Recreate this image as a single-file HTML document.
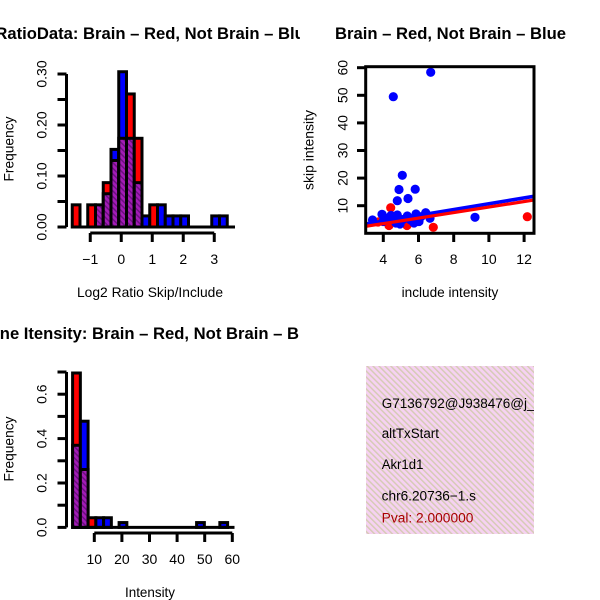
<!DOCTYPE html>
<html>
<head>
<meta charset="utf-8">
<style>
  html, body { margin: 0; padding: 0; background: #ffffff; }
  svg { display: block; }
  text { font-family: "Liberation Sans", Arial, sans-serif; fill: #000; }
</style>
</head>
<body>
<svg width="600" height="600" viewBox="0 0 600 600" xmlns="http://www.w3.org/2000/svg">
  <defs>
    <pattern id="hp" width="4" height="4" patternUnits="userSpaceOnUse" patternTransform="rotate(-45)">
      <rect width="4" height="4" fill="#a31cb6"/>
      <rect width="1.5" height="4" fill="#6c1080"/>
    </pattern>
    <pattern id="pk" width="4.2" height="4.2" patternUnits="userSpaceOnUse" patternTransform="rotate(-45)">
      <rect width="4.2" height="4.2" fill="#f6d2f2"/>
      <rect width="1.5" height="4.2" fill="#d6cbb6"/>
    </pattern>
    <clipPath id="c1"><rect x="0" y="0" width="300" height="300"/></clipPath>
    <clipPath id="c3"><rect x="0" y="300" width="300" height="300"/></clipPath>
    <clipPath id="cs"><rect x="366" y="67" width="168" height="166"/></clipPath>
    <clipPath id="cb"><rect x="366" y="366" width="168" height="168"/></clipPath>
  </defs>

  <rect x="0" y="0" width="600" height="600" fill="#fff"/>

  <!-- ================= TOP-LEFT HISTOGRAM ================= -->
  <g clip-path="url(#c1)">
    <text x="83" y="39" font-weight="bold" font-size="16.6" textLength="231" lengthAdjust="spacingAndGlyphs">Brain – Red, Not Brain – Blue</text>
    <text x="78.4" y="39" font-weight="bold" font-size="16.6" text-anchor="end">RatioData:</text>
  </g>

  <g stroke="#000" stroke-width="3">
    <rect x="72.25" y="204.83" width="7.75" height="22.17" fill="#ff0000"/>
    <rect x="87.75" y="204.83" width="7.75" height="22.17" fill="#ff0000"/>
    <rect x="95.5" y="204.83" width="7.75" height="22.17" fill="url(#hp)"/>
    <rect x="103.25" y="182.65" width="7.75" height="44.35" fill="#ff0000"/>
    <rect x="103.25" y="193.74" width="7.75" height="33.26" fill="url(#hp)"/>
    <rect x="111" y="149.39" width="7.75" height="77.61" fill="#0000ff"/>
    <rect x="111" y="160.48" width="7.75" height="66.52" fill="url(#hp)"/>
    <rect x="118.75" y="71.74" width="7.75" height="155.26" fill="#0000ff"/>
    <rect x="118.75" y="138.3" width="7.75" height="88.7" fill="url(#hp)"/>
    <rect x="126.5" y="93.96" width="7.75" height="133.04" fill="#ff0000"/>
    <rect x="126.5" y="138.3" width="7.75" height="88.7" fill="url(#hp)"/>
    <rect x="134.25" y="138.3" width="7.75" height="88.7" fill="#ff0000"/>
    <rect x="134.25" y="182.65" width="7.75" height="44.35" fill="url(#hp)"/>
    <rect x="142" y="215.91" width="7.75" height="11.09" fill="#0000ff"/>
    <rect x="149.75" y="204.83" width="7.75" height="22.17" fill="#ff0000"/>
    <rect x="157.5" y="204.83" width="7.75" height="22.17" fill="#0000ff"/>
    <rect x="165.25" y="215.91" width="7.75" height="11.09" fill="#0000ff"/>
    <rect x="173" y="215.91" width="7.75" height="11.09" fill="#0000ff"/>
    <rect x="180.75" y="215.91" width="7.75" height="11.09" fill="#0000ff"/>
    <rect x="211.75" y="215.91" width="7.75" height="11.09" fill="#0000ff"/>
    <rect x="219.5" y="215.91" width="7.75" height="11.09" fill="#0000ff"/>
    <line x1="72.25" y1="227" x2="235" y2="227"/>
  </g>

  <!-- y axis -->
  <g stroke="#000" stroke-width="3" fill="none">
    <line x1="66.5" y1="74" x2="66.5" y2="227"/>
    <line x1="57.5" y1="227" x2="66.5" y2="227"/>
    <line x1="57.5" y1="201.5" x2="66.5" y2="201.5"/>
    <line x1="57.5" y1="176" x2="66.5" y2="176"/>
    <line x1="57.5" y1="150.5" x2="66.5" y2="150.5"/>
    <line x1="57.5" y1="125" x2="66.5" y2="125"/>
    <line x1="57.5" y1="99.5" x2="66.5" y2="99.5"/>
    <line x1="57.5" y1="74" x2="66.5" y2="74"/>
    <!-- x axis -->
    <line x1="90.25" y1="233" x2="214.25" y2="233"/>
    <line x1="90.25" y1="233" x2="90.25" y2="242"/>
    <line x1="121.25" y1="233" x2="121.25" y2="242"/>
    <line x1="152.25" y1="233" x2="152.25" y2="242"/>
    <line x1="183.25" y1="233" x2="183.25" y2="242"/>
    <line x1="214.25" y1="233" x2="214.25" y2="242"/>
  </g>
  <g font-size="14" text-anchor="middle">
    <text transform="translate(46.5,227) rotate(-90)">0.00</text>
    <text transform="translate(46.5,176) rotate(-90)">0.10</text>
    <text transform="translate(46.5,125) rotate(-90)">0.20</text>
    <text transform="translate(46.5,74) rotate(-90)">0.30</text>
    <text x="90.25" y="264">−1</text>
    <text x="121.25" y="264">0</text>
    <text x="152.25" y="264">1</text>
    <text x="183.25" y="264">2</text>
    <text x="214.25" y="264">3</text>
    <text x="150" y="297" textLength="146" lengthAdjust="spacingAndGlyphs">Log2 Ratio Skip/Include</text>
    <text transform="translate(13.5,149) rotate(-90)" textLength="65" lengthAdjust="spacingAndGlyphs">Frequency</text>
  </g>

  <!-- ================= TOP-RIGHT SCATTER ================= -->
  <text x="335" y="39" font-weight="bold" font-size="16.6" textLength="231" lengthAdjust="spacingAndGlyphs">Brain – Red, Not Brain – Blue</text>

  <g clip-path="url(#cs)">
    <g fill="#ff0000">
      <circle cx="390.7" cy="207.7" r="4.6"/>
      <circle cx="433.3" cy="227.3" r="4.6"/>
      <circle cx="527.3" cy="216.7" r="4.6"/>
      <circle cx="389" cy="225.5" r="4.6"/>
      <circle cx="407" cy="225.5" r="4.6"/>
      <circle cx="378" cy="222" r="4.6"/>
      <circle cx="383" cy="217" r="4.6"/>
    </g>
    <g fill="#0000ff">
      <circle cx="430.7" cy="72.3" r="4.6"/>
      <circle cx="393.3" cy="96.7" r="4.6"/>
      <circle cx="402.3" cy="175.3" r="4.6"/>
      <circle cx="399" cy="189.5" r="4.6"/>
      <circle cx="415.2" cy="189.2" r="4.6"/>
      <circle cx="408" cy="198.5" r="4.6"/>
      <circle cx="397.3" cy="200.7" r="4.6"/>
      <circle cx="475" cy="217.3" r="4.6"/>
      <circle cx="372.5" cy="220" r="4.6"/>
      <circle cx="382" cy="214.3" r="4.6"/>
      <circle cx="383" cy="221.5" r="4.6"/>
      <circle cx="388" cy="218" r="4.6"/>
      <circle cx="391" cy="215.5" r="4.6"/>
      <circle cx="396" cy="223" r="4.6"/>
      <circle cx="397.3" cy="215" r="4.6"/>
      <circle cx="403" cy="219.5" r="4.6"/>
      <circle cx="407.3" cy="216" r="4.6"/>
      <circle cx="410.7" cy="220" r="4.6"/>
      <circle cx="416" cy="214" r="4.6"/>
      <circle cx="419" cy="221.5" r="4.6"/>
      <circle cx="421" cy="216.7" r="4.6"/>
      <circle cx="425.7" cy="212.7" r="4.6"/>
      <circle cx="430" cy="218.3" r="4.6"/>
      <circle cx="400" cy="224" r="4.6"/>
      <circle cx="414" cy="223" r="4.6"/>
    </g>
    <line x1="366" y1="224" x2="534" y2="196.3" stroke="#0000ff" stroke-width="3.6"/>
    <line x1="366" y1="226.3" x2="534" y2="200" stroke="#ff0000" stroke-width="3.2"/>
  </g>

  <g stroke="#000" stroke-width="3" fill="none">
    <rect x="365.7" y="66.7" width="168.3" height="166.6"/>
    <line x1="357" y1="205.7" x2="365.7" y2="205.7"/>
    <line x1="357" y1="178.1" x2="365.7" y2="178.1"/>
    <line x1="357" y1="150.5" x2="365.7" y2="150.5"/>
    <line x1="357" y1="122.9" x2="365.7" y2="122.9"/>
    <line x1="357" y1="95.3" x2="365.7" y2="95.3"/>
    <line x1="357" y1="67.7" x2="365.7" y2="67.7"/>
    <line x1="383.3" y1="233.3" x2="383.3" y2="242"/>
    <line x1="418.5" y1="233.3" x2="418.5" y2="242"/>
    <line x1="453.7" y1="233.3" x2="453.7" y2="242"/>
    <line x1="488.9" y1="233.3" x2="488.9" y2="242"/>
    <line x1="524.1" y1="233.3" x2="524.1" y2="242"/>
  </g>
  <g font-size="14" text-anchor="middle">
    <text transform="translate(347.5,205.7) rotate(-90)">10</text>
    <text transform="translate(347.5,178.1) rotate(-90)">20</text>
    <text transform="translate(347.5,150.5) rotate(-90)">30</text>
    <text transform="translate(347.5,122.9) rotate(-90)">40</text>
    <text transform="translate(347.5,95.3) rotate(-90)">50</text>
    <text transform="translate(347.5,67.7) rotate(-90)">60</text>
    <text x="383.3" y="264">4</text>
    <text x="418.5" y="264">6</text>
    <text x="453.7" y="264">8</text>
    <text x="488.9" y="264">10</text>
    <text x="524.1" y="264">12</text>
    <text x="450" y="297" textLength="96.7" lengthAdjust="spacingAndGlyphs">include intensity</text>
    <text transform="translate(313.5,150) rotate(-90)" textLength="80" lengthAdjust="spacingAndGlyphs">skip intensity</text>
  </g>

  <!-- ================= BOTTOM-LEFT HISTOGRAM ================= -->
  <g clip-path="url(#c3)">
    <text x="92" y="339" font-weight="bold" font-size="16.6" textLength="231" lengthAdjust="spacingAndGlyphs">Brain – Red, Not Brain – Blue</text>
    <text x="87.4" y="339" font-weight="bold" font-size="16.6" text-anchor="end">Gene Itensity:</text>
  </g>

  <g stroke="#000" stroke-width="3">
    <rect x="72.6" y="373.0" width="7.75" height="154.4" fill="#ff0000"/>
    <rect x="72.6" y="445.3" width="7.75" height="82.1" fill="url(#hp)"/>
    <rect x="80.35" y="421.2" width="7.75" height="106.2" fill="#0000ff"/>
    <rect x="80.35" y="469.5" width="7.75" height="57.9" fill="url(#hp)"/>
    <rect x="88.1" y="517.75" width="7.75" height="9.65" fill="#ff0000"/>
    <rect x="95.85" y="517.75" width="7.75" height="9.65" fill="#0000ff"/>
    <rect x="103.6" y="517.75" width="7.75" height="9.65" fill="#0000ff"/>
    <rect x="119.1" y="522.57" width="7.75" height="4.83" fill="#0000ff"/>
    <rect x="196.6" y="522.57" width="7.75" height="4.83" fill="#0000ff"/>
    <rect x="219.85" y="522.57" width="7.75" height="4.83" fill="#0000ff"/>
    <line x1="72.6" y1="527.4" x2="234.5" y2="527.4"/>
  </g>

  <g stroke="#000" stroke-width="3" fill="none">
    <line x1="66.5" y1="372" x2="66.5" y2="527.4"/>
    <line x1="57.5" y1="527.4" x2="66.5" y2="527.4"/>
    <line x1="57.5" y1="505.2" x2="66.5" y2="505.2"/>
    <line x1="57.5" y1="483" x2="66.5" y2="483"/>
    <line x1="57.5" y1="460.8" x2="66.5" y2="460.8"/>
    <line x1="57.5" y1="438.6" x2="66.5" y2="438.6"/>
    <line x1="57.5" y1="416.4" x2="66.5" y2="416.4"/>
    <line x1="57.5" y1="394.2" x2="66.5" y2="394.2"/>
    <line x1="57.5" y1="372" x2="66.5" y2="372"/>
    <line x1="94.3" y1="533" x2="232.3" y2="533"/>
    <line x1="94.3" y1="533" x2="94.3" y2="542"/>
    <line x1="121.9" y1="533" x2="121.9" y2="542"/>
    <line x1="149.5" y1="533" x2="149.5" y2="542"/>
    <line x1="177.1" y1="533" x2="177.1" y2="542"/>
    <line x1="204.7" y1="533" x2="204.7" y2="542"/>
    <line x1="232.3" y1="533" x2="232.3" y2="542"/>
  </g>
  <g font-size="14" text-anchor="middle">
    <text transform="translate(46.5,527.4) rotate(-90)">0.0</text>
    <text transform="translate(46.5,483) rotate(-90)">0.2</text>
    <text transform="translate(46.5,438.6) rotate(-90)">0.4</text>
    <text transform="translate(46.5,394.2) rotate(-90)">0.6</text>
    <text x="94.3" y="564">10</text>
    <text x="121.9" y="564">20</text>
    <text x="149.5" y="564">30</text>
    <text x="177.1" y="564">40</text>
    <text x="204.7" y="564">50</text>
    <text x="232.3" y="564">60</text>
    <text x="150" y="597" textLength="50" lengthAdjust="spacingAndGlyphs">Intensity</text>
    <text transform="translate(13.5,449) rotate(-90)" textLength="65" lengthAdjust="spacingAndGlyphs">Frequency</text>
  </g>

  <!-- ================= BOTTOM-RIGHT INFO BOX ================= -->
  <rect x="366" y="366" width="168" height="168" fill="url(#pk)"/>
  <g clip-path="url(#cb)" font-size="13.5">
    <text x="381.7" y="408">G7136792@J938476@j_</text>
    <text x="381.7" y="438" textLength="57.3" lengthAdjust="spacingAndGlyphs">altTxStart</text>
    <text x="381.7" y="469" textLength="41.7" lengthAdjust="spacingAndGlyphs">Akr1d1</text>
    <text x="381.7" y="500.5" textLength="94.3" lengthAdjust="spacingAndGlyphs">chr6.20736−1.s</text>
    <text x="381.7" y="522.5" textLength="91.7" lengthAdjust="spacingAndGlyphs" style="fill:#a80000">Pval: 2.000000</text>
  </g>
</svg>
</body>
</html>
